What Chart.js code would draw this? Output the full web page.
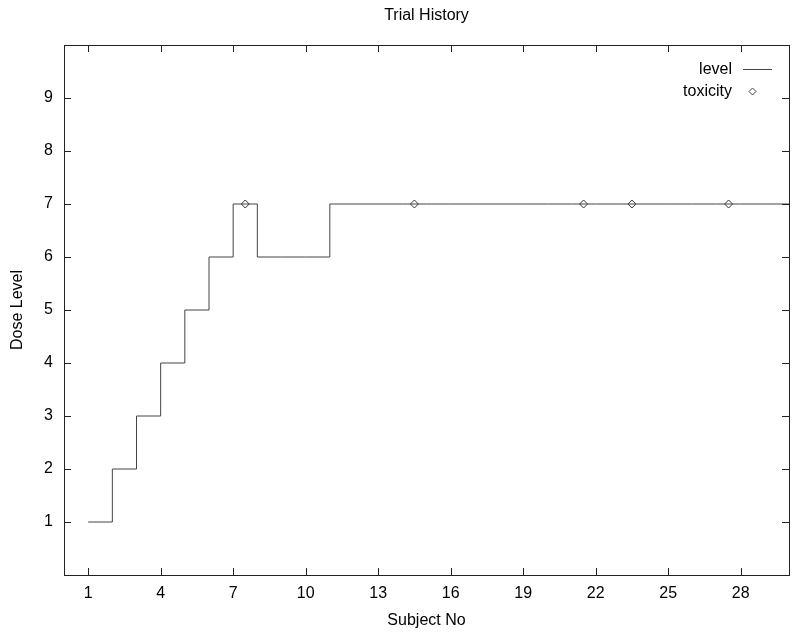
<!DOCTYPE html>
<html>
<head>
<meta charset="utf-8">
<title>Trial History</title>
<script src="https://cdn.jsdelivr.net/npm/chart.js@4"></script>
<style>
  html, body { margin: 0; padding: 0; background: #fff; }
</style>
</head>
<body>
<canvas id="js--chart" width="800" height="640"></canvas>
<script>
// subject number and the dose level given to that subject
const subjects = [1, 2, 3, 4, 5, 6, 7, 8, 9, 10, 11, 12, 13, 14, 15, 16, 17, 18, 19, 20, 21, 22, 23, 24, 25, 26, 27, 28, 29, 30];
const levels   = [1, 2, 3, 4, 5, 6, 7, 6, 6, 6, 7, 7, 7, 7, 7, 7, 7, 7, 7, 7, 7, 7, 7, 7, 7, 7, 7, 7, 7, 7];

// toxicity events (drawn in the middle of the subject's step)
const toxicityX = [7.5, 14.5, 21.5, 23.5, 27.5];
const toxicityY = [7, 7, 7, 7, 7];

const xTicks = [1, 4, 7, 10, 13, 16, 19, 22, 25, 28];
const yTicks = [1, 2, 3, 4, 5, 6, 7, 8, 9];

const FONT = '"Liberation Sans", Arial, Helvetica, sans-serif';
const LINE = '#444';
const FRAME = '#222';

Chart.defaults.font.family = FONT;
Chart.defaults.font.size = 16;
Chart.defaults.color = '#000';

// gnuplot style frame with inward ticks, title and legend
const gnuplotFrame = {
    id: 'gnuplotFrame',
    afterDraw(chart) {
        const ctx = chart.ctx;
        const a = chart.chartArea;
        const xs = chart.scales.x;
        const ys = chart.scales.y;
        const tick = 7;

        ctx.save();
        ctx.strokeStyle = FRAME;
        ctx.lineWidth = 1;
        ctx.beginPath();
        xTicks.forEach(v => {
            const px = Math.round(xs.getPixelForValue(v)) + 0.5;
            ctx.moveTo(px, a.bottom); ctx.lineTo(px, a.bottom - tick);
            ctx.moveTo(px, a.top); ctx.lineTo(px, a.top + tick);
        });
        yTicks.forEach(v => {
            const py = Math.round(ys.getPixelForValue(v)) + 0.5;
            ctx.moveTo(a.left, py); ctx.lineTo(a.left + tick, py);
            ctx.moveTo(a.right, py); ctx.lineTo(a.right - tick, py);
        });
        ctx.stroke();
        ctx.strokeRect(Math.round(a.left) + 0.5, Math.round(a.top) + 0.5,
            Math.round(a.right - a.left), Math.round(a.bottom - a.top));

        // title
        ctx.fillStyle = '#000';
        ctx.font = '16px ' + FONT;
        ctx.textAlign = 'center';
        ctx.textBaseline = 'middle';
        ctx.fillText('Trial History', (a.left + a.right) / 2, 16);

        // legend
        ctx.textAlign = 'right';
        ctx.fillText('level', 732, 70);
        ctx.fillText('toxicity', 732, 92);
        ctx.strokeStyle = LINE;
        ctx.beginPath();
        ctx.moveTo(743, 69.5);
        ctx.lineTo(772, 69.5);
        ctx.stroke();
        ctx.beginPath();
        ctx.moveTo(752.5, 88);
        ctx.lineTo(756, 91.5);
        ctx.lineTo(752.5, 95);
        ctx.lineTo(749, 91.5);
        ctx.closePath();
        ctx.stroke();
        ctx.restore();
    }
};

const chart = new Chart(document.getElementById('js--chart').getContext('2d'), {
    type: 'scatter',
    data: {
        datasets: [{
            label: 'level',
            data: subjects.map((s, i) => ({ x: s, y: levels[i] })),
            showLine: true,
            stepped: true,
            borderColor: LINE,
            borderWidth: 1,
            pointRadius: 0,
            fill: false
        }, {
            label: 'toxicity',
            data: toxicityX.map((x, i) => ({ x: x, y: toxicityY[i] })),
            showLine: false,
            pointStyle: 'rectRot',
            pointRadius: 4,
            borderColor: '#333',
            backgroundColor: '#fff',
            borderWidth: 1
        }]
    },
    options: {
        responsive: false,
        animation: false,
        layout: { padding: { top: 45, right: 11, left: 0, bottom: 0 } },
        plugins: {
            legend: { display: false },
            tooltip: { enabled: false }
        },
        scales: {
            x: {
                type: 'linear',
                min: 0,
                max: 30,
                afterBuildTicks: scale => { scale.ticks = xTicks.map(v => ({ value: v })); },
                afterFit: scale => { scale.height = 65; },
                grid: { display: false, drawTicks: false },
                border: { display: false },
                ticks: { padding: 9, maxRotation: 0, autoSkip: false },
                title: { display: true, text: 'Subject No', padding: { top: 0, bottom: 10 } }
            },
            y: {
                min: 0,
                max: 10,
                afterBuildTicks: scale => { scale.ticks = yTicks.map(v => ({ value: v })); },
                afterFit: scale => { scale.width = 64; },
                grid: { display: false, drawTicks: false },
                border: { display: false },
                ticks: { padding: 11, autoSkip: false },
                title: { display: true, text: 'Dose Level', padding: { top: 8, bottom: 0 } }
            }
        }
    },
    plugins: [gnuplotFrame]
});
</script>
</body>
</html>
